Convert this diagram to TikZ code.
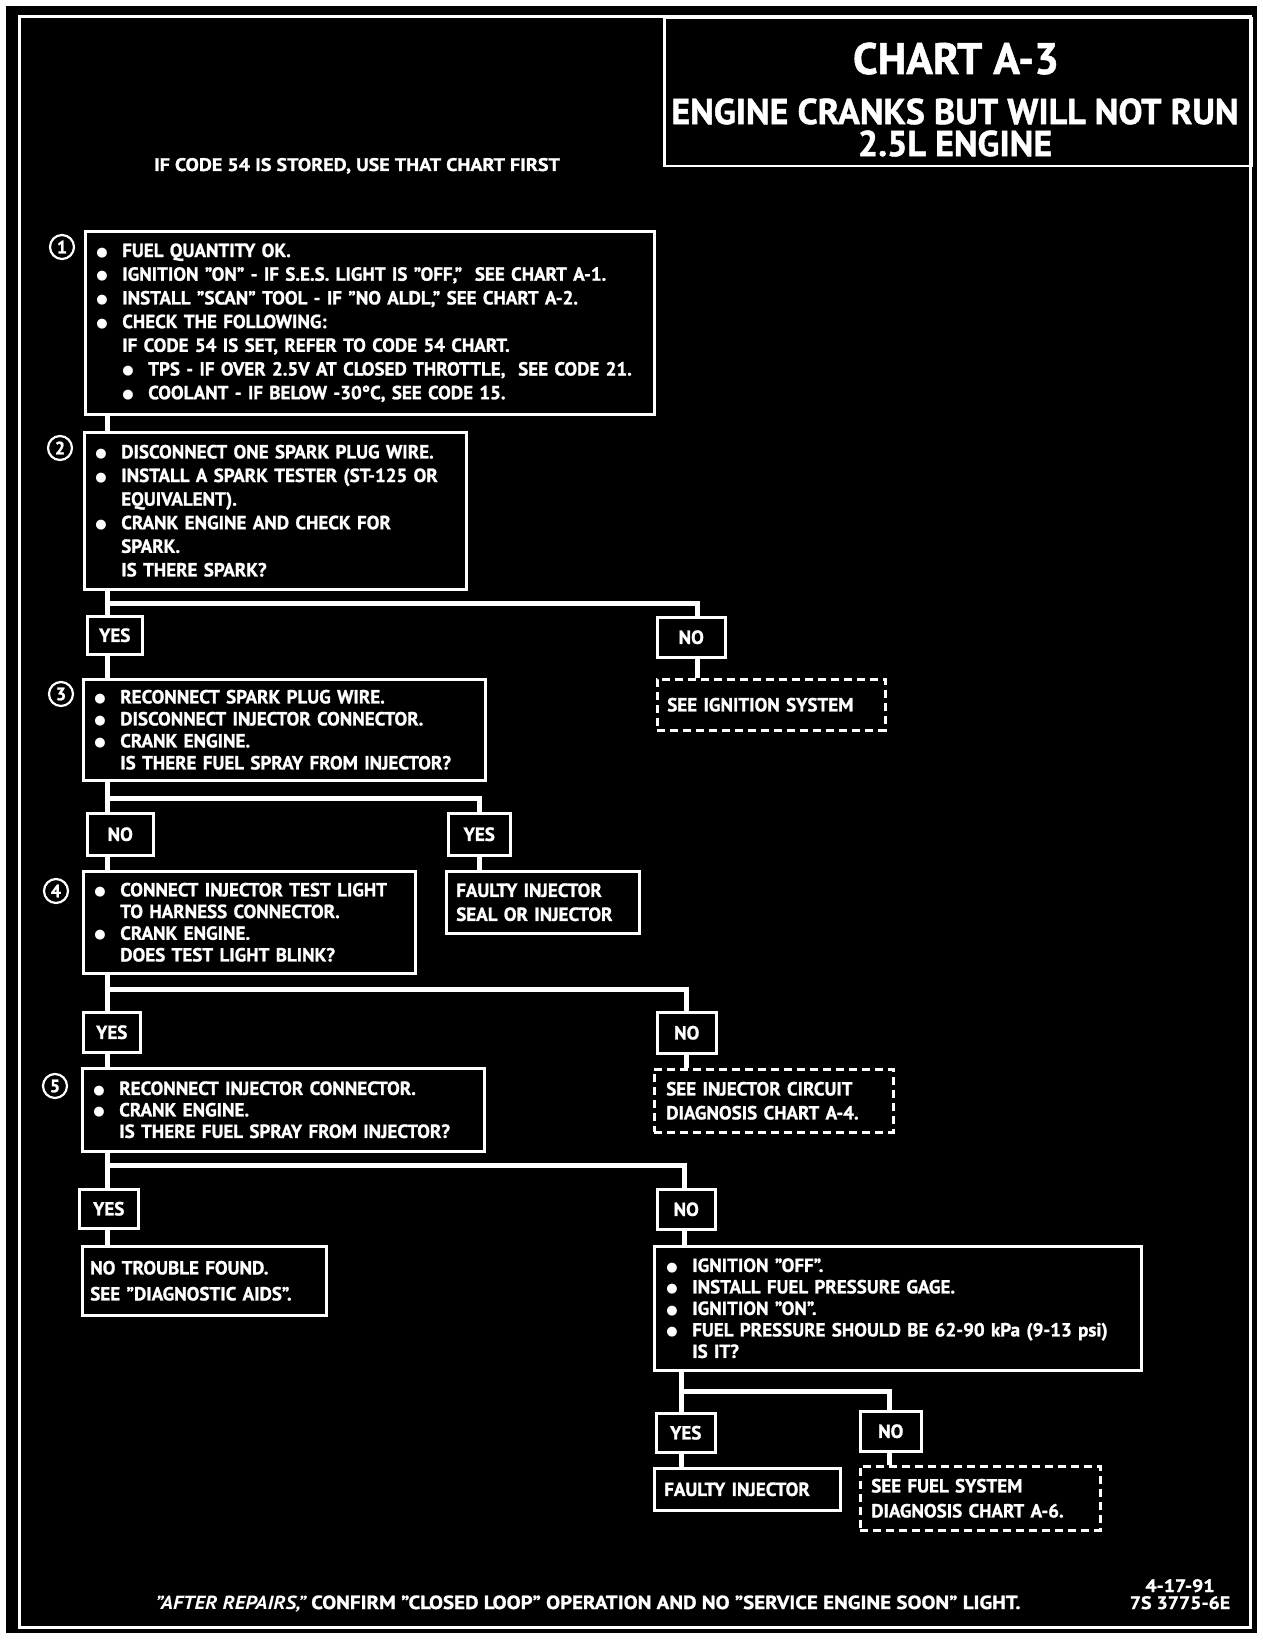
\documentclass[tikz,border=0pt]{standalone}
\usepackage{fontspec}
\setmainfont{PT Sans}[BoldFeatures={FakeBold=1.2}]
\newfontfamily\widefont{PT Sans}[FakeStretch=1.1, BoldFeatures={FakeBold=1.2}]
\newfontfamily\dotfont{DejaVu Sans}
\newcommand\bodyfont{\bfseries\fontsize{19}{23}\selectfont}
\newcommand\itm{\makebox[26pt][l]{\raisebox{0.9pt}{\dotfont\fontsize{13}{13}\selectfont ●}}}
\newcommand\ind{\hspace*{26pt}}
\begin{document}
\begin{tikzpicture}[x=1pt, y=-1pt, line join=miter,
  every node/.style={text=white, font=\bodyfont},
  leading/.style={font={\bfseries\fontsize{19}{#1}\selectfont}},
  panel/.style={draw=white, line width=2.5pt, anchor=north west, inner xsep=11pt, inner ysep=0pt, align=left},
  dashpanel/.style={panel, dash pattern=on 8pt off 5pt},
  answer/.style={draw=white, line width=2.5pt, anchor=north west, inner sep=0pt},
  stepnum/.style={circle, draw=white, line width=2.2pt, minimum size=24pt, inner sep=0pt, font=\bfseries\fontsize{18}{18}\selectfont},
  conn/.style={draw=white, line width=5pt}]
  % page and frame
  \fill[white] (0,0) rectangle (1262,1640);
  \useasboundingbox (0,0) rectangle (1262,1640);
  \fill[black] (6,6) rectangle (1257,1633);
  \draw[white, line width=3pt] (19,17) rectangle (1250,1627);

  % title block
  \node[answer, minimum width=587pt, minimum height=148pt] (head) at (663,17) {};
  \node[anchor=base, inner sep=0pt, font=\bfseries\fontsize{44}{44}\selectfont] (h1) at (956,74) {CHART A-3};
  \node[inner sep=0pt, align=center, font=\bfseries\fontsize{36}{32}\selectfont] (h2) at (955,127.5)
    {ENGINE CRANKS BUT WILL NOT RUN\\ 2.5L ENGINE};
  \node[anchor=base, font=\widefont\bfseries\fontsize{18.2}{18}\selectfont] (pre) at (357,171) {IF CODE 54 IS STORED, USE THAT CHART FIRST};

  % steps
  \node[panel, leading=23.7, text width=547pt, minimum height=183pt] (b1) at (84,230)
    {\itm FUEL QUANTITY OK.\\
     \itm IGNITION ”ON” - IF S.E.S. LIGHT IS ”OFF,”\ \ SEE CHART A-1.\\
     \itm INSTALL ”SCAN” TOOL - IF ”NO ALDL,” SEE CHART A-2.\\
     \itm CHECK THE FOLLOWING:\\
     \ind IF CODE 54 IS SET, REFER TO CODE 54 CHART.\\
     \ind\itm TPS - IF OVER 2.5V AT CLOSED THROTTLE,\ \ SEE CODE 21.\\
     \ind\itm COOLANT - IF BELOW -30°C, SEE CODE 15.};
  \node[stepnum] (c1) at (62,247) {1};

  \node[panel, leading=23.6, text width=360pt, minimum height=157pt] (b2) at (83,431)
    {\itm DISCONNECT ONE SPARK PLUG WIRE.\\
     \itm INSTALL A SPARK TESTER (ST-125 OR\\
     \ind EQUIVALENT).\\
     \itm CRANK ENGINE AND CHECK FOR\\
     \ind SPARK.\\
     \ind IS THERE SPARK?};
  \node[stepnum] (c2) at (60,448) {2};

  \node[answer, minimum width=55pt, minimum height=38pt] (y2) at (86,615) {YES};
  \node[answer, minimum width=68pt, minimum height=40pt] (n2) at (656,616) {NO};
  \node[dashpanel, inner xsep=10pt, text width=208pt, minimum height=51pt] (s2) at (656,678) {SEE IGNITION SYSTEM};

  \node[panel, leading=22, text width=380pt, minimum height=101pt] (b3) at (82,678)
    {\itm RECONNECT SPARK PLUG WIRE.\\
     \itm DISCONNECT INJECTOR CONNECTOR.\\
     \itm CRANK ENGINE.\\
     \ind IS THERE FUEL SPRAY FROM INJECTOR?};
  \node[stepnum] (c3) at (61,694) {3};

  \node[answer, minimum width=66pt, minimum height=42pt] (n3) at (86,812) {NO};
  \node[answer, minimum width=62pt, minimum height=42pt] (y3) at (447,812) {YES};
  \node[panel, leading=24, inner xsep=10pt, text width=173pt, minimum height=62pt] (f3) at (445,870)
    {FAULTY INJECTOR\\ SEAL OR INJECTOR};

  \node[panel, leading=21.7, text width=310pt, minimum height=102pt] (b4) at (82,870)
    {\itm CONNECT INJECTOR TEST LIGHT\\
     \ind TO HARNESS CONNECTOR.\\
     \itm CRANK ENGINE.\\
     \ind DOES TEST LIGHT BLINK?};
  \node[stepnum] (c4) at (56,891) {4};

  \node[answer, minimum width=57pt, minimum height=40pt] (y4) at (82,1011) {YES};
  \node[answer, minimum width=59pt, minimum height=41pt] (n4) at (656,1011) {NO};
  \node[dashpanel, leading=24, inner xsep=12pt, text width=215pt, minimum height=63pt] (s4) at (653,1068)
    {SEE INJECTOR CIRCUIT\\ DIAGNOSIS CHART A-4.};

  \node[panel, leading=21.5, text width=380pt, minimum height=83pt] (b5) at (81,1067)
    {\itm RECONNECT INJECTOR CONNECTOR.\\
     \itm CRANK ENGINE.\\
     \ind IS THERE FUEL SPRAY FROM INJECTOR?};
  \node[stepnum] (c5) at (55,1086) {5};

  \node[answer, minimum width=59pt, minimum height=39pt] (y5) at (78,1188) {YES};
  \node[answer, minimum width=58pt, minimum height=40pt] (n5) at (656,1188) {NO};
  \node[panel, leading=26, inner xsep=8pt, text width=228pt, minimum height=69pt] (t5) at (81,1245)
    {NO TROUBLE FOUND.\\ SEE ”DIAGNOSTIC AIDS”.};

  \node[panel, leading=21.5, inner xsep=12pt, text width=463pt, minimum height=124pt] (b6) at (653,1245)
    {\itm IGNITION ”OFF”.\\
     \itm INSTALL FUEL PRESSURE GAGE.\\
     \itm IGNITION ”ON”.\\
     \itm FUEL PRESSURE SHOULD BE 62-90 kPa (9-13 psi)\\
     \ind IS IT?};

  \node[answer, minimum width=59pt, minimum height=39pt] (y6) at (655,1412) {YES};
  \node[answer, minimum width=61pt, minimum height=40pt] (n6) at (859,1410) {NO};
  \node[panel, inner xsep=10pt, text width=166pt, minimum height=42pt] (f6) at (653,1467) {FAULTY INJECTOR};
  \node[dashpanel, leading=25, inner xsep=11pt, text width=218pt, minimum height=64pt] (s6) at (859,1465)
    {SEE FUEL SYSTEM\\ DIAGNOSIS CHART A-6.};

  % connectors
  \coordinate (j2) at (107,603);  \coordinate (r2) at (697,603);
  \coordinate (j3) at (107,798);  \coordinate (r3) at (479,798);
  \coordinate (j4) at (107,989);  \coordinate (r4) at (686,989);
  \coordinate (j5) at (107,1165); \coordinate (r5) at (684,1165);
  \coordinate (j6) at (681,1391); \coordinate (r6) at (889,1391);

  \draw[conn] (b1.south -| j2) -- (b2.north -| j2);
  \draw[conn] (b2.south -| j2) -- (y2.north -| j2);
  \draw[conn] (j2) -| (n2.north -| r2);
  \draw[conn] (y2.south -| j2) -- (b3.north -| j2);
  \draw[conn] (n2.south -| r2) -- (s2.north -| r2);

  \draw[conn] (b3.south -| j3) -- (n3.north -| j3);
  \draw[conn] (j3) -| (y3.north -| r3);
  \draw[conn] (n3.south -| j3) -- (b4.north -| j3);
  \draw[conn] (y3.south -| r3) -- (f3.north -| r3);

  \draw[conn] (b4.south -| j4) -- (y4.north -| j4);
  \draw[conn] (j4) -| (n4.north -| r4);
  \draw[conn] (y4.south -| j4) -- (b5.north -| j4);
  \draw[conn] (n4.south -| r4) -- (s4.north -| r4);

  \draw[conn] (b5.south -| j5) -- (y5.north -| j5);
  \draw[conn] (j5) -| (n5.north -| r5);
  \draw[conn] (y5.south -| j5) -- (t5.north -| j5);
  \draw[conn] (n5.south -| r5) -- (b6.north -| r5);

  \draw[conn] (b6.south -| j6) -- (y6.north -| j6);
  \draw[conn] (j6) -| (n6.north -| r6);
  \draw[conn] (y6.south -| j6) -- (f6.north -| j6);
  \draw[conn] (n6.south -| r6) -- (s6.north -| r6);

  % footer
  \node[anchor=base, font=\widefont\bfseries\fontsize{19}{19}\selectfont] (foot) at (588,1609)
    {{\itshape ”AFTER REPAIRS,”} CONFIRM ”CLOSED LOOP” OPERATION AND NO ”SERVICE ENGINE SOON” LIGHT.};
  \node[anchor=base, inner sep=0pt, font=\widefont\bfseries\fontsize{18}{18}\selectfont] (date) at (1180,1592) {4-17-91};
  \node[anchor=base, inner sep=0pt, font=\widefont\bfseries\fontsize{18}{18}\selectfont] (ref) at (1180,1609) {7S 3775-6E};
\end{tikzpicture}
\end{document}
